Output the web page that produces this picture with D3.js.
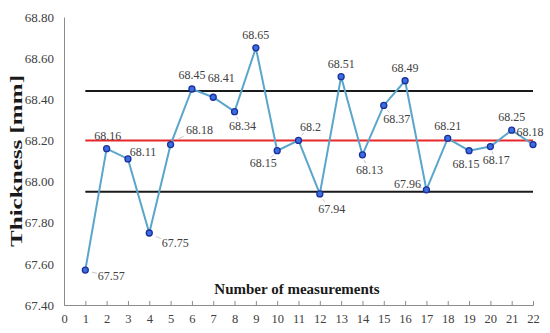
<!DOCTYPE html>
<html>
  <head>
    <title>Thickness measurements</title>
    <script src="https://d3js.org/d3.v7.min.js"></script>
    <style>
      body { margin: 0; background: #fff; }
      svg { display: block; font-family: "Liberation Serif", "Times New Roman", serif; }
    </style>
  </head>
  <body>
    <svg width="550" height="333"></svg>
    <script>
      // data
      var measurements = [1,2,3,4,5,6,7,8,9,10,11,12,13,14,15,16,17,18,19,20,21,22];
      var thickness = [67.57,68.16,68.11,67.75,68.18,68.45,68.41,68.34,68.65,68.15,68.2,
                       67.94,68.51,68.13,68.37,68.49,67.96,68.21,68.15,68.17,68.25,68.18];
      var labels = ["67.57","68.16","68.11","67.75","68.18","68.45","68.41","68.34","68.65","68.15","68.2",
                    "67.94","68.51","68.13","68.37","68.49","67.96","68.21","68.15","68.17","68.25","68.18"];
      var upperLimit = 68.44, nominal = 68.2, lowerLimit = 67.95;
      var yTicks = [67.4,67.6,67.8,68.0,68.2,68.4,68.6,68.8];
      var xTicks = d3.range(0, 23);

      // label placement (offset of label centre from its point) and leader flag
      var labelPos = [[26,6,1],[1,-13,0],[15,-7,0],[26,10,1],[29,-15,1],[0,-14,0],[8,-19,0],[8,14,1],
                      [0,-13,0],[-14,12,1],[12,-14,1],[12,15,1],[0,-13,0],[7,15,1],[13,13,1],[0,-13,0],
                      [-19,-6,1],[0,-13,0],[-3,13,0],[6,13,1],[0,-13,0],[-3,-13,0]];

      var svg = d3.select("svg");
      var x = d3.scaleLinear().domain([0, 22]).range([64, 533]);
      var y = d3.scaleLinear().domain([67.4, 68.8]).range([305, 17]);

      // axes
      var yAxis = d3.axisLeft(y).tickValues(yTicks).tickSize(0).tickPadding(10).tickFormat(d3.format(".2f"));
      var gy = svg.append("g").attr("transform", "translate(64,0)").call(yAxis);
      gy.select(".domain").attr("stroke", "#8c8c8c");
      gy.selectAll("text").attr("font-size", 13).attr("fill", "#404040").attr("font-family", "Liberation Serif");

      var xAxis = d3.axisBottom(x).tickValues(xTicks).tickSize(-4).tickPadding(9);
      var gx = svg.append("g").attr("transform", "translate(0,305)").call(xAxis);
      gx.select(".domain").attr("stroke", "#8c8c8c");
      gx.selectAll(".tick line").attr("stroke", "#8c8c8c");
      gx.selectAll("text").attr("font-size", 12.5).attr("fill", "#404040").attr("font-family", "Liberation Serif");

      // reference lines
      var refs = [{v: upperLimit, c: "#1a1a1a"}, {v: nominal, c: "#e8272b"}, {v: lowerLimit, c: "#1a1a1a"}];
      svg.selectAll("line.ref").data(refs).enter().append("line")
        .attr("class", "ref")
        .attr("x1", x(1)).attr("x2", x(22))
        .attr("y1", function(d) { return y(d.v); })
        .attr("y2", function(d) { return y(d.v); })
        .attr("stroke", function(d) { return d.c; })
        .attr("stroke-width", 2);

      var pts = measurements.map(function(m, i) { return {m: m, v: thickness[i], t: labels[i], p: labelPos[i]}; });

      // series line
      var line = d3.line().x(function(d) { return x(d.m); }).y(function(d) { return y(d.v); });
      svg.append("path").datum(pts)
        .attr("d", line)
        .attr("fill", "none")
        .attr("stroke", "#5aa6cb")
        .attr("stroke-width", 2);

      // leader lines
      svg.selectAll("line.lead").data(pts.filter(function(d) { return d.p[2]; })).enter().append("line")
        .attr("class", "lead")
        .attr("x1", function(d) { return x(d.m) + d.p[0] * 0.25; })
        .attr("y1", function(d) { return y(d.v) + d.p[1] * 0.35; })
        .attr("x2", function(d) { return x(d.m) + d.p[0] * 0.45; })
        .attr("y2", function(d) { return y(d.v) + d.p[1] * 0.55; })
        .attr("stroke", "#c8c8c8")
        .attr("stroke-width", 1);

      // markers
      svg.selectAll("circle.pt").data(pts).enter().append("circle")
        .attr("class", "pt")
        .attr("cx", function(d) { return x(d.m); })
        .attr("cy", function(d) { return y(d.v); })
        .attr("r", 3)
        .attr("fill", "#3a6fe0")
        .attr("stroke", "#1c2f9c")
        .attr("stroke-width", 1.3);

      // data labels
      svg.selectAll("text.lbl").data(pts).enter().append("text")
        .attr("class", "lbl")
        .attr("x", function(d) { return x(d.m) + d.p[0]; })
        .attr("y", function(d) { return y(d.v) + d.p[1]; })
        .attr("dy", "0.35em")
        .attr("text-anchor", "middle")
        .attr("font-size", 12)
        .attr("fill", "#404040")
        .text(function(d) { return d.t; });

      // titles
      svg.append("text")
        .attr("x", 297).attr("y", 294)
        .attr("text-anchor", "middle")
        .attr("font-size", 15).attr("font-weight", "bold").attr("fill", "#1a1a1a")
        .text("Number of measurements");
      svg.append("text")
        .attr("transform", "translate(22,161) rotate(-90)")
        .attr("text-anchor", "middle")
        .attr("font-size", 17).attr("font-weight", "bold").attr("fill", "#1a1a1a")
        .attr("textLength", 172).attr("lengthAdjust", "spacingAndGlyphs")
        .text("Thickness [mm]");
    </script>
  </body>
</html>
